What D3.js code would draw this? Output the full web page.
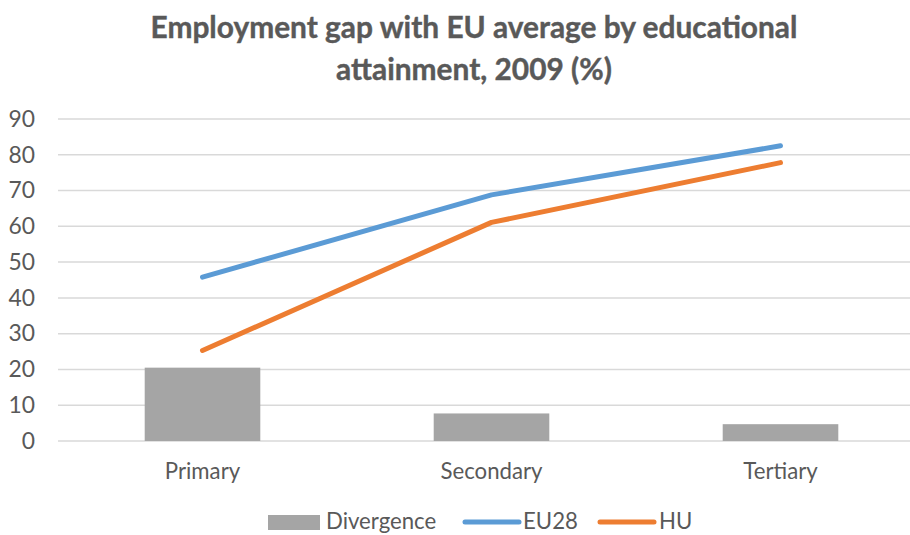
<!DOCTYPE html>
<html>
<head>
<meta charset="utf-8">
<script src="https://cdn.jsdelivr.net/npm/d3@7/dist/d3.min.js"></script>
<style>
  html, body { margin: 0; padding: 0; background: #fff; }
  svg { display: block; }
  text { font-family: Lato, "Open Sans", sans-serif; fill: #595959; }
</style>
</head>
<body>
<svg id="chart" width="910" height="535"></svg>
<script>
// Employment rate by educational attainment, 2009 (%)
const categories = ["Primary", "Secondary", "Tertiary"];
const divergence = [20.5, 7.7, 4.7];
const eu28 = [45.8, 68.8, 82.5];
const hu = [25.3, 61.1, 77.8];
const yTicks = [0, 10, 20, 30, 40, 50, 60, 70, 80, 90];
const titleLines = ["Employment gap with EU average by educational", "attainment, 2009 (%)"];
const legendItems = [
  { name: "Divergence", kind: "bar", color: "#A5A5A5" },
  { name: "EU28", kind: "line", color: "#5B9BD5" },
  { name: "HU", kind: "line", color: "#ED7D31" }
];

const svg = d3.select("#chart");

// Shrink or grow a text element's font size so it spans the given width
function fitWidth(sel, target) {
  const node = sel.node();
  const fs = parseFloat(sel.attr("font-size"));
  const w = node.getComputedTextLength();
  if (w > 0) sel.attr("font-size", (fs * target / w).toFixed(2));
  return sel;
}

const x = d3.scaleBand().domain(categories).range([58, 925]).paddingInner(0).paddingOuter(0);
const y = d3.scaleLinear().domain([0, 90]).range([441, 119]);
const barW = x.bandwidth() / 2.5;

// Title
const title = svg.append("g");
titleLines.forEach((t, i) => {
  const el = title.append("text")
    .attr("x", 474).attr("y", [38, 80][i])
    .attr("text-anchor", "middle")
    .attr("font-weight", "bold")
    .attr("font-size", 26)
    .style("stroke", "#595959")
    .style("stroke-width", 0.4)
    .text(t);
  if (i === 0) fitWidth(el, 647);
});
// keep both title lines the same size
const tfs = title.select("text").attr("font-size");
title.selectAll("text").attr("font-size", tfs);

// Gridlines
svg.append("g")
  .selectAll("line")
  .data(yTicks)
  .join("line")
  .attr("x1", 58).attr("x2", 925)
  .attr("y1", d => y(d)).attr("y2", d => y(d))
  .attr("stroke", "#D9D9D9")
  .attr("stroke-width", 1.5);

// Y axis labels
const yAxis = svg.append("g")
  .attr("transform", "translate(35,0)")
  .call(d3.axisLeft(y).tickValues(yTicks).tickSize(0).tickPadding(0));
yAxis.select(".domain").remove();
yAxis.selectAll("text")
  .attr("font-family", "Lato, 'Open Sans', sans-serif")
  .style("fill", "#595959");

// X axis labels
const xAxis = svg.append("g")
  .attr("transform", "translate(0,441)")
  .call(d3.axisBottom(x).tickSize(0).tickPadding(0));
xAxis.select(".domain").remove();
xAxis.selectAll("text")
  .attr("y", 38)
  .attr("dy", 0)
  .attr("font-size", 20)
  .attr("font-family", "Lato, 'Open Sans', sans-serif")
  .style("fill", "#595959");
{
  const sec = xAxis.selectAll("text").filter(d => d === "Secondary");
  fitWidth(sec, 102);
  xAxis.selectAll("text").attr("font-size", sec.attr("font-size"));
}
const axisFs = xAxis.select("text").attr("font-size");
yAxis.selectAll("text").attr("font-size", axisFs * 1.03);

// Divergence bars
svg.append("g")
  .selectAll("rect")
  .data(categories)
  .join("rect")
  .attr("x", d => x(d) + (x.bandwidth() - barW) / 2)
  .attr("width", barW)
  .attr("y", (d, i) => y(divergence[i]))
  .attr("height", (d, i) => y(0) - y(divergence[i]))
  .attr("fill", "#A5A5A5");

// Lines
const line = d3.line()
  .x((d, i) => x(categories[i]) + x.bandwidth() / 2)
  .y(d => y(d));

[[eu28, "#5B9BD5"], [hu, "#ED7D31"]].forEach(([vals, color]) => {
  svg.append("path")
    .datum(vals)
    .attr("d", line)
    .attr("fill", "none")
    .attr("stroke", color)
    .attr("stroke-width", 5)
    .attr("stroke-linecap", "round")
    .attr("stroke-linejoin", "round");
});

// Legend (along the bottom edge)
const legendPos = [
  { sx: 268, tx: 326 },
  { sx: 465, tx: 523 },
  { sx: 600, tx: 659 }
];
const legend = svg.append("g");
legendItems.forEach((it, i) => {
  const p = legendPos[i];
  if (it.kind === "bar") {
    legend.append("rect")
      .attr("x", p.sx).attr("y", 515)
      .attr("width", 52).attr("height", 15)
      .attr("fill", it.color);
  } else {
    legend.append("line")
      .attr("x1", p.sx).attr("x2", p.sx + 54)
      .attr("y1", 522).attr("y2", 522)
      .attr("stroke", it.color)
      .attr("stroke-width", 5)
      .attr("stroke-linecap", "round");
  }
  legend.append("text")
    .attr("x", p.tx).attr("y", 529)
    .attr("font-size", axisFs)
    .text(it.name);
});
</script>
</body>
</html>
